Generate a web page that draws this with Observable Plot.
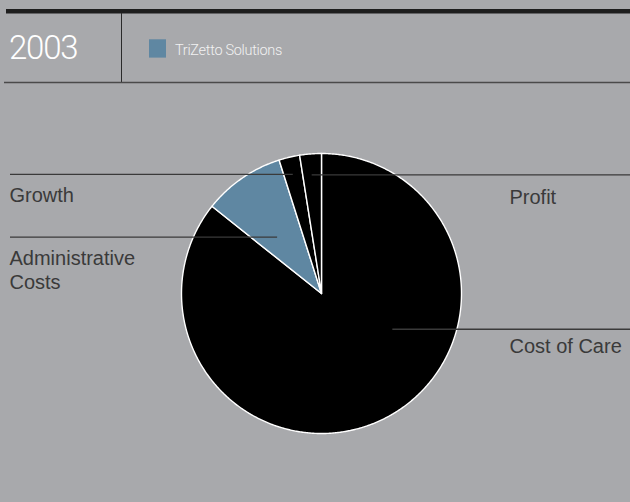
<!DOCTYPE html>
<html>
<head>
<meta charset="utf-8">
<script src="https://cdn.jsdelivr.net/npm/d3@7"></script>
<script src="https://cdn.jsdelivr.net/npm/@observablehq/plot@0.6"></script>
<style>
  html, body { margin: 0; padding: 0; background: #a8a9ac; }
  body { width: 630px; height: 502px; position: relative; overflow: hidden; font-family: "Liberation Sans", Arial, sans-serif; }
  #head { position: absolute; left: 0; top: 0; }
  #chart { position: absolute; left: 0; top: 90px; }
</style>
</head>
<body>
<svg id="head" width="630" height="90"></svg>
<div id="chart"></div>
<script>
// ---------- data ----------
const yearLabel = "2003";
const legendLabels = ["TriZetto Solutions"];
const legendColors = ["#5f87a2"];
const categories = ["Cost of Care", "Administrative Costs", "Growth", "Profit"];
const shares = [85.7, 9.4, 2.4, 2.5];
const sliceColors = ["#000000", "#5f87a2", "#000000", "#000000"];
const labelTexts = ["Cost of Care", "Administrative\nCosts", "Growth", "Profit"];

// ---------- layout ----------
const W = 630, H = 412, TOP = 90;
const CX = 321, CY = 293, R = 140;           // page pixels
const px2x = px => (px - CX) / R;
const py2y = py => (CY - py) / R;
const textColor = "#3a3a3a";
const FS = 20, LH = 1.2;
// Plot places the first baseline 0.71*lineHeight em below y for lineAnchor "top"
const baseOff = 0.71 * LH * FS;   // px from y to first baseline
const capH = 0.716 * FS;

// header
const head = d3.select("#head");
head.append("rect").attr("x", 6).attr("y", 9).attr("width", 624).attr("height", 4.5).attr("fill", "#1e1e1e");
head.append("line").attr("x1", 121.5).attr("x2", 121.5).attr("y1", 13).attr("y2", 82.5)
  .attr("stroke", "#2a2a2a").attr("stroke-width", 1);
head.append("line").attr("x1", 4).attr("x2", 630).attr("y1", 82.5).attr("y2", 82.5)
  .attr("stroke", "#4a4a4a").attr("stroke-width", 1.3);
head.append("text").attr("x", 9).attr("y", 59.3).text(yearLabel)
  .attr("fill", "#ffffff").attr("font-family", "Roboto, 'Liberation Sans', sans-serif")
  .attr("font-weight", 300).attr("font-size", 33).attr("letter-spacing", -1.2);
legendLabels.forEach((lab, i) => {
  head.append("rect").attr("x", 149).attr("y", 39.3).attr("width", 17).attr("height", 18.3).attr("fill", legendColors[i]);
  head.append("text").attr("x", 175).attr("y", 54.5).text(lab)
    .attr("fill", "#f2f2f2").attr("font-family", "Roboto, 'Liberation Sans', sans-serif")
    .attr("font-weight", 300).attr("font-size", 14.5).attr("letter-spacing", -0.3);
});

// ---------- pie geometry from data ----------
const rows = categories.map((c, i) => ({name: c, share: shares[i], color: sliceColors[i], label: labelTexts[i]}));
const arcs = d3.pie().sort(null).value(d => d.share)(rows);
const polyPts = [];
arcs.forEach(a => {
  polyPts.push({name: a.data.name, color: a.data.color, x: 0, y: 0});
  const n = Math.max(2, Math.ceil((a.endAngle - a.startAngle) / (Math.PI / 360)));
  for (let k = 0; k <= n; k++) {
    const t = a.startAngle + (a.endAngle - a.startAngle) * k / n;
    polyPts.push({name: a.data.name, color: a.data.color, x: Math.sin(t), y: Math.cos(t)});
  }
});

// annotation anchors: position within slice (fraction of angle) and radius fraction;
// dy = distance (px) from leader line down to the label's cap top
const anchorSpec = {
  "Cost of Care":        {t: 0.378, r: 0.57, side: "right", dy: 9.5},
  "Administrative Costs":{t: 0.40,  r: 0.51, side: "left",  dy: 13},
  "Growth":              {t: 0.50,  r: 0.875, side: "left", dy: 13.5},
  "Profit":              {t: 0.50,  r: 0.85, side: "right", dy: 14.5}
};
const annots = arcs.map(a => {
  const s = anchorSpec[a.data.name];
  const ang = a.startAngle + (a.endAngle - a.startAngle) * s.t;
  const ax = Math.sin(ang) * s.r, ay = Math.cos(ang) * s.r;
  const left = s.side === "left";
  return {
    label: a.data.label,
    y: ay,
    x1: left ? px2x(10) : ax,
    x2: left ? ax : px2x(630),
    tx: left ? px2x(9) : px2x(509),
    ty: ay - (s.dy + capH - baseOff) / R
  };
});

const chart = Plot.plot({
  width: W, height: H,
  margin: 0,
  x: {domain: [px2x(0), px2x(W)], axis: null},
  y: {domain: [py2y(TOP + H), py2y(TOP)], axis: null},
  style: {background: "transparent", overflow: "visible"},
  marks: [
    Plot.line(polyPts, {x: "x", y: "y", z: "name", fill: "color", stroke: "#ffffff", strokeWidth: 1.4, curve: "linear-closed", strokeLinejoin: "round"}),
    Plot.ruleY(annots, {y: "y", x1: "x1", x2: "x2", stroke: "#3a3a3a", strokeWidth: 1.3}),
    Plot.text(annots, {x: "tx", y: "ty", text: "label", textAnchor: "start", lineAnchor: "top", lineHeight: LH,
      fontSize: FS, fill: textColor, fontFamily: "'Liberation Sans', Arial, sans-serif"})
  ]
});
document.getElementById("chart").appendChild(chart);
</script>
</body>
</html>
